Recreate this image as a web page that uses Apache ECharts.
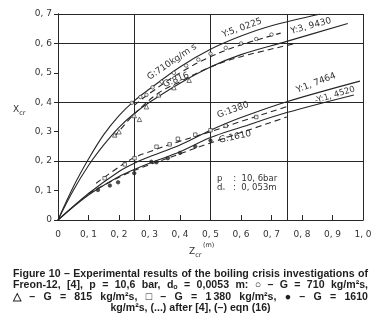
<!DOCTYPE html>
<html><head><meta charset="utf-8">
<script src="https://cdn.jsdelivr.net/npm/echarts@6/dist/echarts.min.js"></script>
<style>html,body{margin:0;padding:0;background:#fff;}#c{width:380px;height:332px;}</style>
</head><body><div id="c"></div>
<script>
// ---- data ----
const xTickValues = [0,0.1,0.2,0.3,0.4,0.5,0.6,0.7,0.8,0.9,1.0];
const yTickValues = [0,0.1,0.2,0.3,0.4,0.5,0.6,0.7];

// eqn (16) solid curves
const solid710_z = [0,0.05,0.1,0.15,0.2,0.25,0.3,0.4,0.5,0.6,0.7,0.86];
const solid710_x = [0,0.112,0.207,0.29,0.355,0.405,0.445,0.52,0.58,0.625,0.66,0.70];
const solid816_z = [0,0.05,0.1,0.15,0.2,0.25,0.3,0.4,0.5,0.6,0.75,0.95];
const solid816_x = [0,0.1,0.185,0.255,0.315,0.362,0.4,0.465,0.52,0.562,0.607,0.668];
const solid1380_z = [0,0.1,0.2,0.25,0.3,0.4,0.5,0.6,0.75,0.99];
const solid1380_x = [0,0.09,0.165,0.193,0.215,0.255,0.305,0.348,0.402,0.472];
const solid1610_z = [0,0.1,0.2,0.25,0.3,0.4,0.5,0.6,0.75,0.97];
const solid1610_x = [0,0.085,0.148,0.172,0.193,0.232,0.28,0.315,0.365,0.425];

// after [4] dashed curves
const dash710_z = [0.25,0.3,0.4,0.5,0.6,0.73];
const dash710_x = [0.39,0.43,0.5,0.555,0.595,0.635];
const dash816_z = [0.185,0.25,0.33,0.4,0.5,0.6,0.78];
const dash816_x = [0.283,0.36,0.432,0.47,0.52,0.555,0.6];
const dash1380_z = [0.125,0.2,0.25,0.3,0.4,0.5,0.6,0.75];
const dash1380_x = [0.125,0.18,0.212,0.232,0.268,0.3,0.335,0.385];
const dash1610_z = [0.1,0.2,0.25,0.3,0.4,0.5,0.6,0.75];
const dash1610_x = [0.09,0.145,0.168,0.188,0.225,0.262,0.297,0.35];

// experimental points
const pts710_z = [0.242,0.27,0.29,0.31,0.34,0.38,0.42,0.46,0.5,0.55,0.6,0.65,0.7];
const pts710_x = [0.398,0.418,0.425,0.451,0.47,0.5,0.525,0.545,0.565,0.585,0.6,0.615,0.63];
const pts815_z = [0.186,0.2,0.25,0.267,0.29,0.33,0.38,0.43];
const pts815_x = [0.289,0.3,0.355,0.342,0.385,0.425,0.45,0.475];
const pts1380_z = [0.153,0.219,0.251,0.323,0.366,0.393,0.45,0.5,0.55,0.65];
const pts1380_x = [0.142,0.189,0.21,0.249,0.257,0.276,0.29,0.305,0.32,0.35];
const pts1610_z = [0.131,0.17,0.197,0.25,0.306,0.323,0.36,0.4,0.45,0.5];
const pts1610_x = [0.102,0.117,0.128,0.159,0.198,0.196,0.21,0.228,0.25,0.27];

const captionLines = [
  'Figure 10 – Experimental results of the boiling crisis investigations of',
  'Freon-12, [4], p = 10,6 bar, dₒ = 0,0053 m: ○ – G = 710 kg/m²s,',
  '△ – G = 815 kg/m²s, □ – G = 1\u2009380 kg/m²s, ● – G = 1610',
  'kg/m²s, (...) after [4], (–) eqn (16)'
];

// ---- build ----
const INK = '#262626';
function pairs(zs, xs){ return zs.map((z,i)=>[z, xs[i]]); }
function fmt(v){ if (Math.abs(v) < 1e-9) return '0'; return v.toFixed(1).replace('.', ', '); }

function lineSeries(zs, xs, dashed){
  return { type:'line', xAxisIndex:0, yAxisIndex:0, data:pairs(zs,xs), smooth:0.35, symbol:'none',
    lineStyle:{ color:INK, width:1.1, type: dashed ? [6,4] : 'solid' }, silent:true, z:3 };
}
function ptSeries(zs, xs, sym, filled){
  return { type:'scatter', xAxisIndex:0, yAxisIndex:0, data:pairs(zs,xs), symbol:sym,
    symbolSize: sym==='triangle'?4.5:3.5,
    itemStyle:{ color: filled ? INK : '#fff', borderColor: INK, borderWidth: 0.8 }, silent:true, z:4 };
}

const chart = echarts.init(document.getElementById('c'), null, {renderer:'canvas'});
const axisFont = { fontFamily:'DejaVu Sans', fontSize:9, color:'#333' };

chart.setOption({
  animation:false,
  backgroundColor:'#fff',
  grid:{ left:58, top:14, width:305, height:206 },
  xAxis:[
    { type:'value', min:0, max:1, interval:0.1, position:'bottom',
      axisLine:{ lineStyle:{ color:INK, width:1 } },
      axisTick:{ inside:true, length:5, lineStyle:{ color:INK } },
      axisLabel:{ ...axisFont, margin:10, formatter:fmt },
      splitLine:{ show:false } },
    { type:'value', min:0, max:1, interval:0.25, position:'top',
      axisLine:{ show:true, lineStyle:{ color:INK, width:1 } }, axisTick:{ show:false }, axisLabel:{ show:false },
      splitLine:{ show:true, lineStyle:{ color:INK, width:1 } } }
  ],
  yAxis:[
    { type:'value', min:0, max:0.7, interval:0.1, position:'left',
      axisLine:{ show:true, lineStyle:{ color:INK, width:1 } },
      axisTick:{ show:true, inside:false, length:4, lineStyle:{ color:INK } },
      axisLabel:{ ...axisFont, margin:6, formatter:fmt },
      splitLine:{ show:false } },
    { type:'value', min:0, max:0.7, interval:0.2, position:'right',
      axisLine:{ show:true, lineStyle:{ color:INK, width:1 } }, axisTick:{ show:false }, axisLabel:{ show:false },
      splitLine:{ show:true, lineStyle:{ color:INK, width:1 } } }
  ],
  series:[
    lineSeries(solid710_z, solid710_x, false),
    lineSeries(solid816_z, solid816_x, false),
    lineSeries(solid1380_z, solid1380_x, false),
    lineSeries(solid1610_z, solid1610_x, false),
    lineSeries(dash710_z, dash710_x, true),
    lineSeries(dash816_z, dash816_x, true),
    lineSeries(dash1380_z, dash1380_x, true),
    lineSeries(dash1610_z, dash1610_x, true),
    ptSeries(pts710_z, pts710_x, 'circle', false),
    ptSeries(pts815_z, pts815_x, 'triangle', false),
    ptSeries(pts1380_z, pts1380_x, 'rect', false),
    ptSeries(pts1610_z, pts1610_x, 'circle', true)
  ]
});

// ---- annotations & caption ----
const annFont = { fontFamily:'DejaVu Sans', fontSize:9, fill:'#333' };
function ann(text, cx, cy, deg, fs){
  return { type:'text', x:cx, y:cy, rotation: deg*Math.PI/180,
    style:{ text, ...annFont, fontSize: fs || 9, align:'center', verticalAlign:'middle' }, silent:true, z:10 };
}
const graphics = [
  ann('G:710kg/m s', 172, 62, 34),
  ann('G:816', 176, 80, 22),
  ann('Y:5, 0225', 242, 28, 20),
  ann('Y:3, 9430', 311, 26, 15),
  ann('G:1380', 233, 110, 20),
  ann('G:1610', 235, 137, 12),
  ann('Y:1, 7464', 316, 83, 21),
  ann('-Y:1, 4520', 335, 95, 17, 8.5),
  { type:'text', x:217, y:179, style:{ text:'p    :  10, 6bar', fontFamily:'DejaVu Sans', fontSize:8.5, fill:'#333', align:'left', verticalAlign:'middle' }, silent:true },
  { type:'text', x:217, y:188, style:{ text:'{a|d}{s|ₒ}   :  0, 053m', fontFamily:'DejaVu Sans', fontSize:8.5, fill:'#333', align:'left', verticalAlign:'middle',
      rich:{ a:{ fontFamily:'DejaVu Sans', fontSize:8.5, fill:'#333' }, s:{ fontFamily:'DejaVu Sans', fontSize:6, fill:'#333' } } }, silent:true },
  // axis titles
  { type:'text', x:13, y:110, style:{ text:'{m|X}{s|cr}', align:'left', verticalAlign:'middle',
      rich:{ m:{ fontFamily:'DejaVu Sans', fontSize:9, fill:'#333' }, s:{ fontFamily:'DejaVu Sans', fontSize:6.5, fill:'#333', padding:[6,0,0,0] } } }, silent:true },
  { type:'text', x:189, y:252, style:{ text:'{m|Z}{s|cr}', align:'left', verticalAlign:'middle',
      rich:{ m:{ fontFamily:'DejaVu Sans', fontSize:9, fill:'#333' }, s:{ fontFamily:'DejaVu Sans', fontSize:6.5, fill:'#333', padding:[6,0,0,0] } } }, silent:true },
  { type:'text', x:203, y:245, style:{ text:'(m)', fontFamily:'DejaVu Sans', fontSize:6.5, fill:'#333', align:'left', verticalAlign:'middle' }, silent:true }
];

// caption, justified lines 1-3 between x0 and x1, line 4 centered
const capFont = 'bold 10.6px "Liberation Sans", Arial, sans-serif';
const ctx = document.createElement('canvas').getContext('2d');
ctx.font = capFont;
const x0 = 13, x1 = 368;
const capY = [274, 285.5, 297, 308.5];
captionLines.forEach((line, li) => {
  if (li === 3) {
    graphics.push({ type:'text', x:(x0+x1)/2, y:capY[li], style:{ text:line, font:capFont, fill:'#1e1e1e', align:'center', verticalAlign:'middle' }, silent:true });
    return;
  }
  const words = line.split(' ');
  const widths = words.map(w => ctx.measureText(w).width);
  const total = widths.reduce((a,b)=>a+b,0);
  const spaceW = ctx.measureText(' ').width;
  let scale = 1;
  const natural = total + spaceW*(words.length-1);
  if (natural > x1-x0) scale = (x1-x0)/natural;
  const gap = ((x1-x0) - total*scale) / (words.length-1);
  let x = x0;
  words.forEach((w,i) => {
    graphics.push({ type:'text', x:x, y:capY[li], scaleX:scale,
      style:{ text:w, font:capFont, fill:'#1e1e1e', align:'left', verticalAlign:'middle' }, silent:true });
    x += widths[i]*scale + gap;
  });
});

chart.setOption({ graphic: graphics });
</script>
</body></html>
